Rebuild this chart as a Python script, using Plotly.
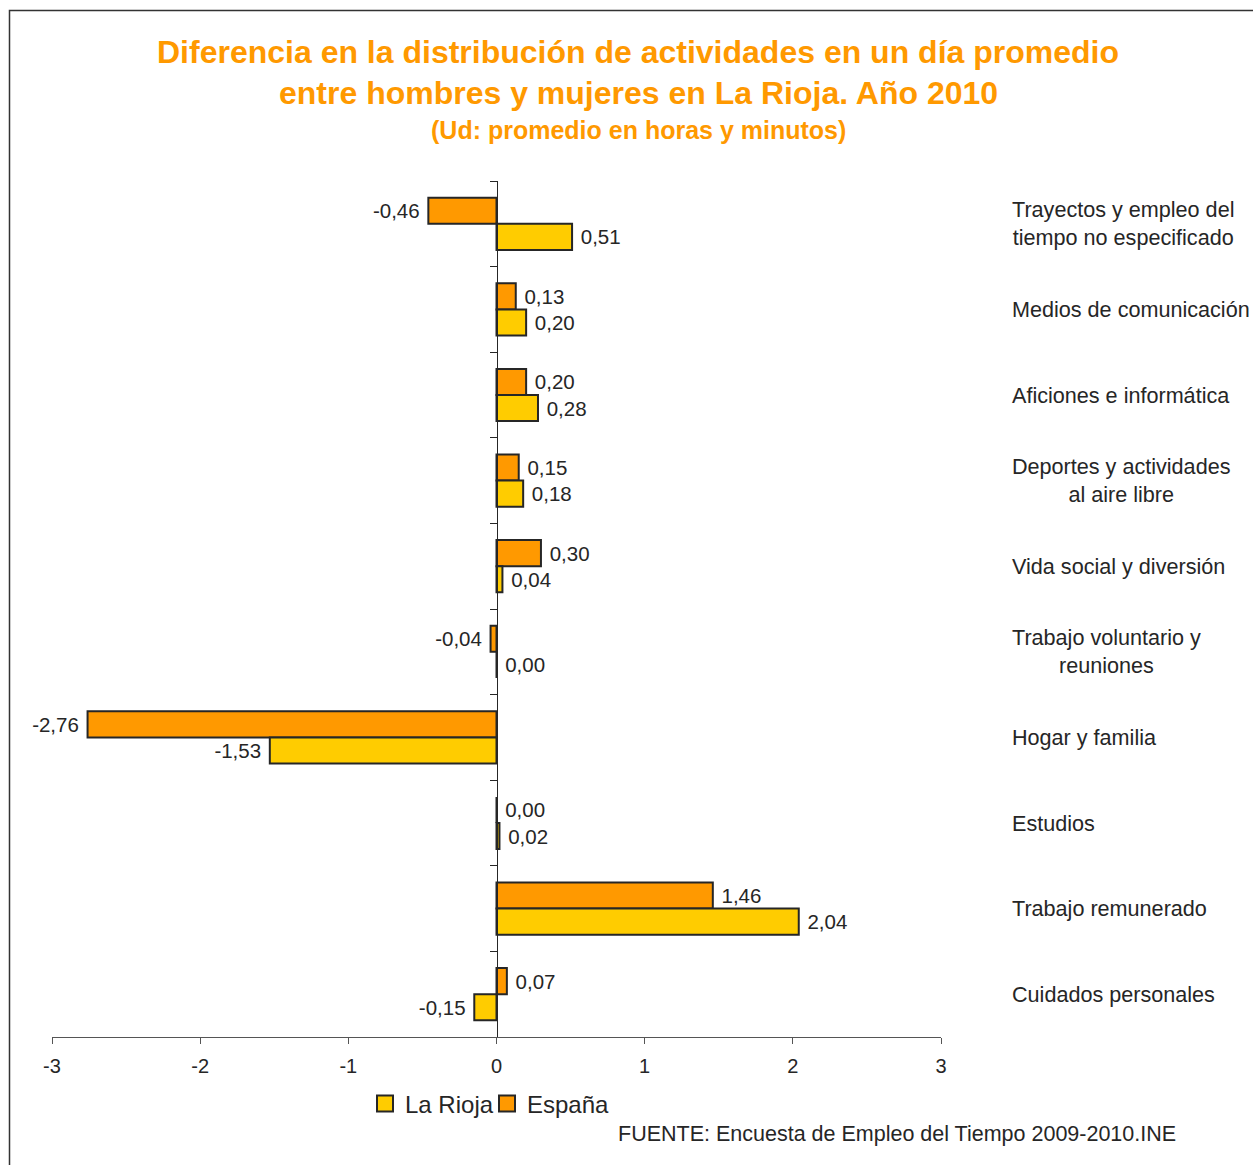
import plotly.graph_objects as go

categories = [
    "Trayectos y empleo del<br>tiempo no especificado",
    "Medios de comunicación",
    "Aficiones e informática",
    "Deportes y actividades<br>al aire libre",
    "Vida social y diversión",
    "Trabajo voluntario y<br>reuniones",
    "Hogar y familia",
    "Estudios",
    "Trabajo remunerado",
    "Cuidados personales",
]
espana = [-0.46, 0.13, 0.20, 0.15, 0.30, -0.04, -2.76, 0.00, 1.46, 0.07]
la_rioja = [0.51, 0.20, 0.28, 0.18, 0.04, 0.00, -1.53, 0.02, 2.04, -0.15]
x_ticks = [-3, -2, -1, 0, 1, 2, 3]

FONT = "Liberation Sans, Arial, Helvetica, sans-serif"
ORANGE = "#FF9900"
YELLOW = "#FFCC00"
DARK = "#262626"


def fmt(v):
    s = f"{v:.2f}".replace(".", ",")
    return (s + " ") if v < 0 else (" " + s)


fig = go.Figure()
fig.add_trace(go.Bar(
    name="España", y=categories, x=espana, orientation="h",
    marker=dict(color=ORANGE, line=dict(color=DARK, width=2)),
    text=[fmt(v) for v in espana], textposition="outside",
    textfont=dict(size=20.5, color=DARK, family=FONT),
    constraintext="none", cliponaxis=False, showlegend=False,
))
fig.add_trace(go.Bar(
    name="La Rioja", y=categories, x=la_rioja, orientation="h",
    marker=dict(color=YELLOW, line=dict(color=DARK, width=2)),
    text=[fmt(v) for v in la_rioja], textposition="outside",
    textfont=dict(size=20.5, color=DARK, family=FONT),
    constraintext="none", cliponaxis=False, showlegend=False,
))
# legend entries (square swatches like the original)
for name, col, rank in [("La Rioja", YELLOW, 1), ("España", ORANGE, 2)]:
    fig.add_trace(go.Scatter(
        name=name, x=[None], y=[None], mode="markers",
        marker=dict(symbol="square", size=16, color=col, line=dict(color=DARK, width=2)),
        legendrank=rank, showlegend=True,
    ))

W, H = 1253, 1165
L, T = 52, 181
R = W - 941
B = H - 1037
pw, ph = W - L - R, H - T - B


def px_x(p):
    return (p - L) / pw


def px_y(p):
    return (H - B - p) / ph


annotations = []
for c in categories:
    annotations.append(dict(
        x=px_x(1010), xref="paper", y=c, yref="y", text=c, showarrow=False,
        xanchor="left", yanchor="middle", align="center",
        font=dict(size=21.6, color=DARK, family=FONT),
    ))

annotations += [
    dict(x=px_x(638), y=px_y(52), xref="paper", yref="paper", showarrow=False,
         text="<b>Diferencia en la distribución de actividades en un día promedio</b>",
         font=dict(size=32, color=ORANGE, family=FONT), xanchor="center", yanchor="middle"),
    dict(x=px_x(638), y=px_y(93), xref="paper", yref="paper", showarrow=False,
         text="<b>entre hombres y mujeres en La Rioja. Año 2010</b>",
         font=dict(size=32, color=ORANGE, family=FONT), xanchor="center", yanchor="middle"),
    dict(x=px_x(638), y=px_y(130), xref="paper", yref="paper", showarrow=False,
         text="<b>(Ud: promedio en horas y minutos)</b>",
         font=dict(size=25, color=ORANGE, family=FONT), xanchor="center", yanchor="middle"),
    dict(x=px_x(616), y=px_y(1134), xref="paper", yref="paper", showarrow=False,
         text="FUENTE: Encuesta de Empleo del Tiempo 2009-2010.INE",
         font=dict(size=21.5, color=DARK, family=FONT), xanchor="left", yanchor="middle"),
]

fig.update_layout(
    width=W, height=H,
    margin=dict(l=L, r=R, t=T, b=B),
    paper_bgcolor="white", plot_bgcolor="white",
    barmode="group", bargap=0.39, bargroupgap=0,
    font=dict(family=FONT, color=DARK),
    showlegend=True,
    legend=dict(orientation="h", x=px_x(487), xanchor="center", y=px_y(1104), yanchor="middle",
                font=dict(size=24, color=DARK, family=FONT), itemwidth=30,
                entrywidth=77, entrywidthmode="pixels", itemsizing="trace",
                bgcolor="rgba(0,0,0,0)"),
    xaxis=dict(range=[-3, 3], tickvals=x_ticks, ticktext=[str(t) for t in x_ticks],
               showgrid=False, zeroline=False, showline=True, linecolor="#555", linewidth=1,
               ticks="outside", ticklen=6, tickcolor="#555", ticklabelstandoff=5,
               tickfont=dict(size=20, color=DARK, family=FONT)),
    yaxis=dict(autorange="reversed", showticklabels=False, showgrid=False, zeroline=False,
               showline=True, linecolor=DARK, linewidth=1, anchor="free", position=0.5,
               ticks="outside", tickson="boundaries", ticklen=7, tickcolor=DARK),
    annotations=annotations,
    shapes=[dict(type="rect", xref="paper", yref="paper",
                 x0=px_x(9.5), x1=1.5, y0=-0.5, y1=px_y(10.5),
                 line=dict(color="#333", width=1.5), fillcolor="rgba(0,0,0,0)", layer="below")],
)

fig.write_html(
    "out.html",
    config={"displayModeBar": False},
    post_script="document.body.style.margin='0';document.body.style.overflow='hidden';",
)
